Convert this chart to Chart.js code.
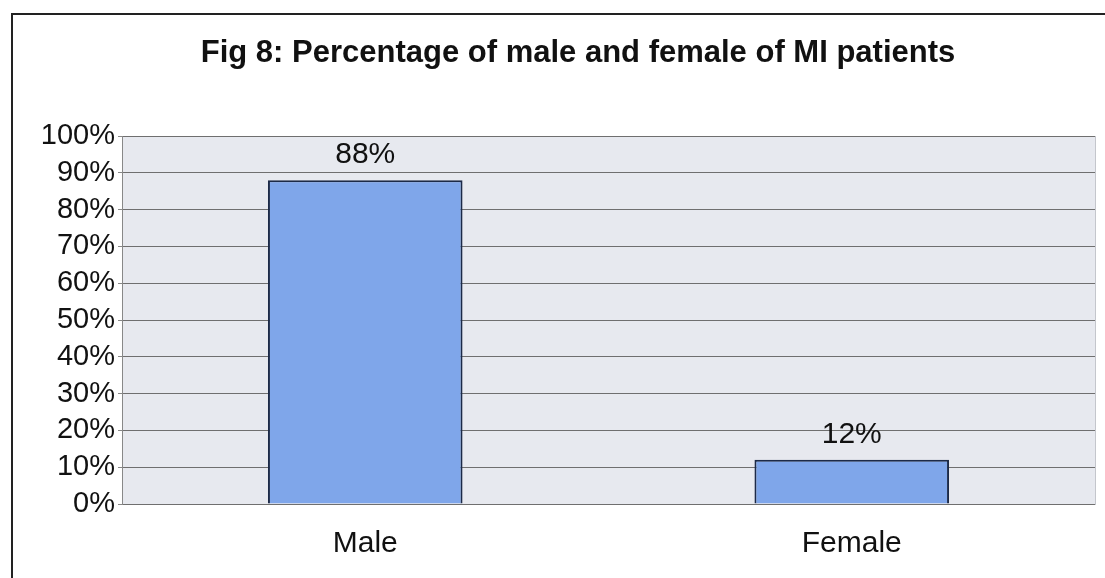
<!DOCTYPE html>
<html>
<head>
<meta charset="utf-8">
<script src="https://cdn.jsdelivr.net/npm/chart.js@4"></script>
<style>
  html, body { margin: 0; padding: 0; background: #fff; overflow: hidden; }
  canvas { display: block; }
</style>
</head>
<body>
<canvas id="grafico" width="1105" height="578"></canvas>
<script>
const categorias = ['Male', 'Female'];
const percentuais = [88, 12];
const rotulosValor = ['88%', '12%'];
const ticksY = [0, 10, 20, 30, 40, 50, 60, 70, 80, 90, 100];

const fonte = 'Arial, "Liberation Sans", sans-serif';

// fundo cinza da area do grafico + moldura da figura
const fundoPlugin = {
  id: 'fundo',
  afterLayout(chart) {
    // deixar os rotulos do eixo Y passarem da margem esquerda sem corte
    chart.scales.y.left = 0;
  },
  beforeDraw(chart) {
    const { ctx, chartArea: a } = chart;
    ctx.save();
    ctx.fillStyle = '#e7e9ef';
    ctx.fillRect(a.left, a.top, a.right - a.left, a.bottom - a.top);
    ctx.strokeStyle = '#c4c6cc';
    ctx.lineWidth = 1;
    ctx.strokeRect(a.left + 0.5, a.top + 0.5, a.right - a.left, a.bottom - a.top);
    // moldura (esquerda e topo)
    ctx.strokeStyle = '#222';
    ctx.lineWidth = 2;
    ctx.beginPath();
    ctx.moveTo(12, 578);
    ctx.lineTo(12, 14);
    ctx.lineTo(1105, 14);
    ctx.stroke();
    ctx.restore();
  }
};

// rotulos de valor acima das barras
const rotulosPlugin = {
  id: 'rotulos',
  afterDatasetsDraw(chart) {
    const { ctx } = chart;
    const meta = chart.getDatasetMeta(0);
    ctx.save();
    ctx.fillStyle = '#111';
    ctx.font = '30px ' + fonte;
    ctx.textAlign = 'center';
    ctx.textBaseline = 'alphabetic';
    meta.data.forEach((bar, i) => {
      ctx.fillText(rotulosValor[i], bar.x, bar.y - 17);
    });
    ctx.restore();
  }
};

new Chart(document.getElementById('grafico'), {
  type: 'bar',
  data: {
    labels: categorias,
    datasets: [{
      data: percentuais,
      backgroundColor: '#7fa6ea',
      borderColor: '#1c2a48',
      borderWidth: 2,
      barPercentage: 0.4,
      categoryPercentage: 1
    }]
  },
  options: {
    responsive: false,
    animation: false,
    devicePixelRatio: 1,
    layout: { padding: { left: 61, right: 10, top: 0, bottom: 0 } },
    plugins: {
      legend: { display: false },
      tooltip: { enabled: false },
      title: {
        display: true,
        text: 'Fig 8: Percentage of male and female of MI patients',
        color: '#111',
        font: { family: fonte, size: 31, weight: 'bold', lineHeight: 1.2 },
        padding: { top: 35, bottom: 63.8 }
      }
    },
    scales: {
      x: {
        grid: { display: false },
        border: { display: false },
        ticks: { color: '#111', padding: 14, font: { family: fonte, size: 30 } },
        afterFit(scale) { scale.height = 74; }
      },
      y: {
        min: 0,
        max: 100,
        afterBuildTicks(scale) { scale.ticks = ticksY.map(v => ({ value: v })); },
        grid: { color: '#6f6f6f', tickLength: 4, tickColor: '#888' },
        border: { display: true, color: '#888' },
        ticks: {
          color: '#111',
          padding: 3,
          autoSkip: false,
          font: { family: fonte, size: 29 },
          callback: v => v + '%'
        },
        afterFit(scale) { scale.width = 61; }
      }
    }
  },
  plugins: [fundoPlugin, rotulosPlugin]
});
</script>
</body>
</html>
